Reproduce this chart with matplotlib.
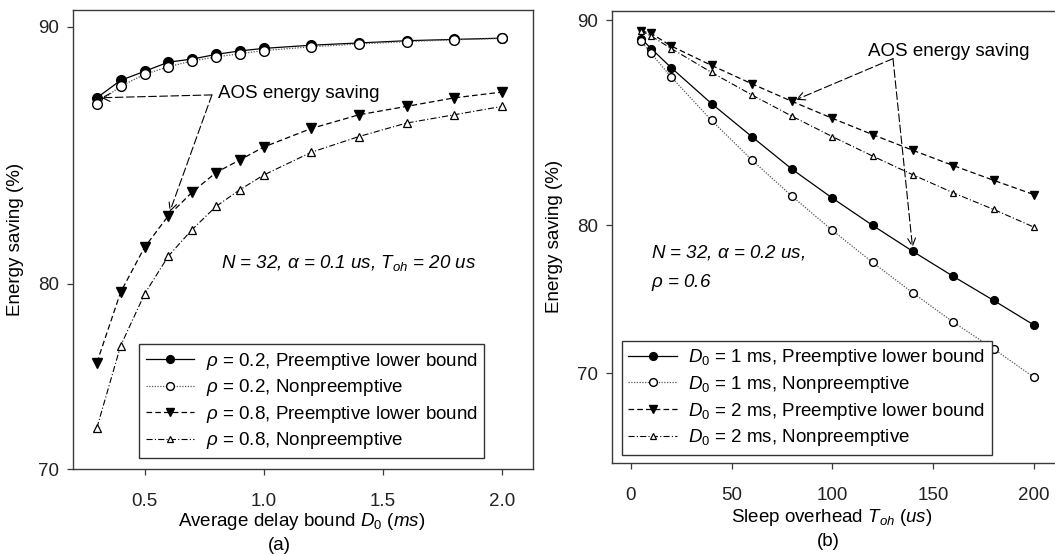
import numpy as np
import matplotlib
matplotlib.use("Agg")
import matplotlib.pyplot as plt

plt.rcParams['font.family'] = ['Liberation Sans', 'DejaVu Sans']
plt.rcParams['mathtext.fontset'] = 'custom'
plt.rcParams['mathtext.rm'] = 'Liberation Sans'
plt.rcParams['mathtext.it'] = 'Liberation Sans:italic'
plt.rcParams['mathtext.bf'] = 'Liberation Sans:bold'

# ---------------- data ----------------
# panel (a): x = average delay bound D0 (ms)
d0 = [0.3, 0.4, 0.5, 0.6, 0.7, 0.8, 0.9, 1.0, 1.2, 1.4, 1.6, 1.8, 2.0]
rho02_pre = [87.7, 88.3, 88.6, 88.9, 89.0, 89.15, 89.26, 89.34, 89.44, 89.51, 89.58, 89.62, 89.66]
rho02_non = [87.5, 88.1, 88.5, 88.75, 88.94, 89.07, 89.17, 89.27, 89.39, 89.48, 89.55, 89.61, 89.65]
rho08_pre = [76.0, 79.6, 81.7, 83.1, 84.1, 84.9, 85.4, 85.9, 86.6, 87.1, 87.4, 87.7, 87.9]
rho08_non = [72.4, 76.9, 79.5, 81.3, 82.5, 83.5, 84.2, 84.8, 85.7, 86.3, 86.8, 87.1, 87.4]

# panel (b): x = sleep overhead Toh (us)
toh = [5, 10, 20, 40, 60, 80, 100, 120, 140, 160, 180, 200]
d1_pre = [89.3, 88.9, 88.1, 86.5, 84.9, 83.2, 81.6, 80.0, 78.4, 76.8, 75.2, 73.5]
d1_non = [89.2, 88.7, 87.7, 85.7, 83.7, 81.7, 79.7, 77.7, 75.7, 73.7, 71.8, 69.7]
d2_pre = [89.6, 89.5, 89.0, 88.2, 87.4, 86.6, 85.8, 85.0, 84.2, 83.4, 82.6, 81.8]
d2_non = [89.6, 89.4, 88.9, 87.9, 86.9, 85.9, 84.9, 83.9, 82.9, 81.9, 80.95, 79.9]

labels_a = [r"$\rho$ = 0.2, Preemptive lower bound",
            r"$\rho$ = 0.2, Nonpreemptive",
            r"$\rho$ = 0.8, Preemptive lower bound",
            r"$\rho$ = 0.8, Nonpreemptive"]
labels_b = [r"$D_{\mathit{0}}$ = 1 ms, Preemptive lower bound",
            r"$D_{\mathit{0}}$ = 1 ms, Nonpreemptive",
            r"$D_{\mathit{0}}$ = 2 ms, Preemptive lower bound",
            r"$D_{\mathit{0}}$ = 2 ms, Nonpreemptive"]
xticks_a = [0.5, 1.0, 1.5, 2.0]
xticks_b = [0, 50, 100, 150, 200]
yticks = [70, 80, 90]

# ---------------- probability (probit) scale ----------------
def _erf(x):
    x = np.asarray(x, dtype=float)
    s = np.sign(x)
    a = np.abs(x)
    t = 1.0 / (1.0 + 0.5 * a)
    y = 1 - t * np.exp(-a * a - 1.26551223 + t * (1.00002368 + t * (0.37409196 + t * (0.09678418 +
        t * (-0.18628806 + t * (0.27886807 + t * (-1.13520398 + t * (1.48851587 +
        t * (-0.82215223 + t * 0.17087277)))))))))
    return s * y

def _ppf(p):
    p = np.clip(np.asarray(p, dtype=float), 1e-12, 1 - 1e-12)
    a = [-3.969683028665376e+01, 2.209460984245205e+02, -2.759285104469687e+02,
         1.383577518672690e+02, -3.066479806614716e+01, 2.506628277459239e+00]
    b = [-5.447609879822406e+01, 1.615858368580409e+02, -1.556989798598866e+02,
         6.680131188771972e+01, -1.328068155288572e+01]
    c = [-7.784894002430293e-03, -3.223964580411365e-01, -2.400758277161838e+00,
         -2.549732539343734e+00, 4.374664141464968e+00, 2.938163982698783e+00]
    d = [7.784695709041462e-03, 3.224671290700398e-01, 2.445134137142996e+00,
         3.754408661907416e+00]
    plow, phigh = 0.02425, 1 - 0.02425
    out = np.empty_like(p)
    lo = p < plow
    hi = p > phigh
    mid = ~(lo | hi)
    q = np.sqrt(-2 * np.log(p[lo]))
    out[lo] = (((((c[0]*q+c[1])*q+c[2])*q+c[3])*q+c[4])*q+c[5]) / ((((d[0]*q+d[1])*q+d[2])*q+d[3])*q+1)
    q = np.sqrt(-2 * np.log(1 - p[hi]))
    out[hi] = -(((((c[0]*q+c[1])*q+c[2])*q+c[3])*q+c[4])*q+c[5]) / ((((d[0]*q+d[1])*q+d[2])*q+d[3])*q+1)
    q = p[mid] - 0.5
    r = q * q
    out[mid] = (((((a[0]*r+a[1])*r+a[2])*r+a[3])*r+a[4])*r+a[5])*q / (((((b[0]*r+b[1])*r+b[2])*r+b[3])*r+b[4])*r+1)
    return out

def fwd(y):
    return _ppf(np.asarray(y, dtype=float) / 100.0)

def inv(z):
    return 100.0 * 0.5 * (1 + _erf(np.asarray(z, dtype=float) / np.sqrt(2)))

# ---------------- figure ----------------
W, H = 1055, 554
fig = plt.figure(figsize=(W / 100, H / 100), dpi=100)

def px_axes(x0, y0, x1, y1):
    return fig.add_axes([x0 / W, 1 - y1 / H, (x1 - x0) / W, (y1 - y0) / H])

def px_text(x, y, s, **kw):
    fig.text(x / W, 1 - y / H, s, ha='center', va='center', **kw)

axA = px_axes(73, 10, 533, 469)
axB = px_axes(612, 10.7, 1058, 463)

FS = 13.5
spine_col = '#3a3a3a'

def make_styles(scale):
    return [
        dict(color='black', ls='-', lw=0.9, marker='o', mfc='black', mec='black', ms=7.0 * scale),
        dict(color='#555555', ls=(0, (1, 1.2)), lw=0.9, marker='o', mfc='white', mec='black',
             ms=7.0 * scale, mew=1.0),
        dict(color='black', ls=(0, (4.5, 2.5)), lw=0.9, marker='v', mfc='black', mec='black', ms=6.8 * scale),
        dict(color='black', ls=(0, (5.5, 2, 1, 2)), lw=0.8, marker='^', mfc='white', mec='black',
             ms=6.0 * scale, mew=0.9),
    ]

def style_axes(ax):
    ax.set_yscale('function', functions=(fwd, inv))
    ax.set_yticks(yticks)
    ax.set_yticklabels([str(v) for v in yticks])
    ax.yaxis.set_minor_locator(matplotlib.ticker.NullLocator())
    for s in ax.spines.values():
        s.set_color(spine_col)
        s.set_linewidth(1.0)
    ax.tick_params(direction='out', length=4, width=0.9, colors=spine_col,
                   labelcolor='#222222', labelsize=FS)
    ax.tick_params(axis='y', pad=6)
    ax.tick_params(axis='x', pad=13)

leg_kw = dict(loc='lower left', fontsize=FS, frameon=True, fancybox=False,
              edgecolor='#333333', framealpha=1, handlelength=2.6, labelspacing=0.3,
              borderpad=0.35, handletextpad=0.6, borderaxespad=0, markerscale=0.8)

arrow_kw = dict(arrowstyle='->', lw=0.8, color='black', linestyle=(0, (7, 3)),
                shrinkA=0, shrinkB=3, mutation_scale=14)

# ---- panel (a)
for ys, st, lab in zip([rho02_pre, rho02_non, rho08_pre, rho08_non], make_styles(1.0), labels_a):
    axA.plot(d0, ys, label=lab, **st)
style_axes(axA)
axA.set_xlim(0.2, 2.13)
axA.set_ylim(70, 90.5)
axA.set_xticks(xticks_a)
axA.set_xticklabels([f"{v:.1f}" for v in xticks_a])
axA.set_ylabel("Energy saving (%)", fontsize=FS, labelpad=10)
px_text(302, 522, "Average delay bound $\\mathit{D}_{\\mathit{0}}$ $\\mathit{(ms)}$", fontsize=FS)
px_text(279, 545, "(a)", fontsize=FS)
axA.text(0.322, 0.449, r"N = 32, $\alpha$ = 0.1 us, $T_{oh}$ = 20 us", transform=axA.transAxes,
         fontsize=FS, style='italic', va='center', ha='left')
axA.text(0.315, 0.819, "AOS energy saving", transform=axA.transAxes, fontsize=FS,
         va='center', ha='left')
axA.annotate("", xy=(d0[0], rho02_pre[0]), xycoords='data', xytext=(0.302, 0.815),
             textcoords='axes fraction', arrowprops=arrow_kw)
axA.annotate("", xy=(d0[3], rho08_pre[3]), xycoords='data', xytext=(0.302, 0.815),
             textcoords='axes fraction', arrowprops=arrow_kw)
legA = axA.legend(bbox_to_anchor=(0.1435, 0.024), **leg_kw)
legA.get_frame().set_linewidth(1.0)

# ---- panel (b)
for ys, st, lab in zip([d1_pre, d1_non, d2_pre, d2_non], make_styles(0.8), labels_b):
    axB.plot(toh, ys, label=lab, **st)
style_axes(axB)
axB.set_xlim(-9.4, 212)
axB.set_ylim(63.0, 90.36)
axB.set_xticks(xticks_b)
axB.set_xticklabels([str(v) for v in xticks_b])
axB.set_ylabel("Energy saving (%)", fontsize=FS, labelpad=10)
px_text(832, 518, "Sleep overhead $\\mathit{T}_{\\mathit{oh}}$ $\\mathit{(us)}$", fontsize=FS)
px_text(828, 541, "(b)", fontsize=FS)
axB.text(0.087, 0.465, r"N = 32, $\alpha$ = 0.2 us,", transform=axB.transAxes,
         fontsize=FS, style='italic', va='center', ha='left')
axB.text(0.087, 0.40, r"$\rho$ = 0.6", transform=axB.transAxes,
         fontsize=FS, style='italic', va='center', ha='left')
axB.text(0.574, 0.909, "AOS energy saving", transform=axB.transAxes, fontsize=FS,
         va='center', ha='left')
axB.annotate("", xy=(toh[5], d2_pre[5]), xycoords='data', xytext=(0.630, 0.894),
             textcoords='axes fraction', arrowprops=arrow_kw)
axB.annotate("", xy=(toh[8], d1_pre[8]), xycoords='data', xytext=(0.630, 0.894),
             textcoords='axes fraction', arrowprops=arrow_kw)
legB = axB.legend(bbox_to_anchor=(0.022, 0.018), **dict(leg_kw, markerscale=1.0))
legB.get_frame().set_linewidth(1.0)

fig.savefig("out.png", dpi=100)
